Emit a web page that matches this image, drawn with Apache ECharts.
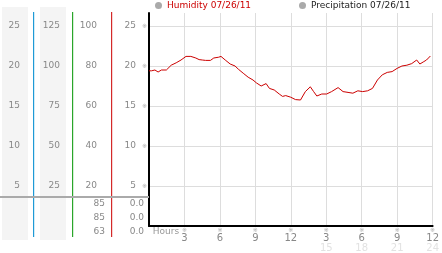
<!DOCTYPE html>
<html><head><meta charset="utf-8">
<script src="https://cdn.jsdelivr.net/npm/echarts@6/dist/echarts.min.js"></script>
<style>html,body{margin:0;padding:0;background:#fff}#c{width:442px;height:253px}</style>
</head><body><div id="c"></div><script>
// ---- data ----
const hours = [0,0.22,0.5,0.77,1.05,1.47,1.88,2.3,2.71,3.13,3.54,3.96,4.24,4.51,4.79,5.2,5.48,5.9,6.09,6.45,6.87,7.28,7.56,7.97,8.39,8.8,9.08,9.49,9.91,10.19,10.6,11.02,11.3,11.57,11.99,12.4,12.82,13.23,13.65,13.93,14.2,14.62,15.03,15.45,16.0,16.42,16.84,17.25,17.67,18.08,18.5,18.91,19.33,19.74,20.16,20.57,20.99,21.4,21.82,22.23,22.65,22.92,23.2,23.48,23.81];
const humidity = [19.4,19.4,19.5,19.25,19.5,19.5,20.1,20.4,20.75,21.2,21.2,21.0,20.8,20.75,20.7,20.7,21.0,21.1,21.2,20.75,20.25,20.0,19.6,19.1,18.6,18.25,17.9,17.5,17.8,17.2,17.0,16.5,16.2,16.3,16.1,15.8,15.75,16.8,17.4,16.8,16.25,16.5,16.5,16.8,17.3,16.8,16.7,16.6,16.9,16.8,16.9,17.2,18.25,18.9,19.2,19.3,19.7,20.0,20.1,20.3,20.75,20.25,20.5,20.75,21.25];
const xTicks = [0,3,6,9,12,15,18,21,24];
const mainTicks = [5,10,15,20,25];
const col1Ticks = [5,10,15,20,25];
const col2Ticks = [25,50,75,100,125];
const col3Ticks = [20,40,60,80,100];
const col3Now = ['85','85','63'];
const col4Now = ['0.0','0.0','0.0'];
const seriesNames = ['Humidity 07/26/11','Precipitation 07/26/11'];

// ---- chart ----
const FF = 'DejaVu Sans';
const GRAY = '#888';
const topFrac = 26.625 / 25; // axis extends above last tick
function yAx(ticks, offset, margin, extra) {
  const step = ticks[1] - ticks[0];
  return Object.assign({
    type: 'value', position: 'left', offset: offset,
    min: 0, max: ticks[ticks.length-1] * topFrac, interval: step,
    axisLine: {show: false}, axisTick: {show: false}, splitLine: {show: false},
    axisLabel: {margin: margin, showMinLabel: false, showMaxLabel: false,
      color: GRAY, fontFamily: FF, fontSize: 9}
  }, extra || {});
}
const chart = echarts.init(document.getElementById('c'), null, {renderer: 'canvas'});
const gfx = [
  {type:'rect', z:-10, shape:{x:2,y:7,width:26,height:233}, style:{fill:'#f4f4f4'}},
  {type:'rect', z:-10, shape:{x:40,y:7,width:26,height:233}, style:{fill:'#f4f4f4'}},
  {type:'rect', z:5, shape:{x:33,y:12,width:1.2,height:225}, style:{fill:'#1f9ad6'}},
  {type:'rect', z:5, shape:{x:72,y:12,width:1.2,height:225}, style:{fill:'#2aa52a'}},
  {type:'rect', z:5, shape:{x:111,y:12,width:1.2,height:225}, style:{fill:'#d42a2a'}},
  {type:'line', z:6, shape:{x1:0,y1:197,x2:149,y2:197}, style:{stroke:'#aaaaaa',lineWidth:2}}
];
const rowsY = [204, 218, 232];
col3Now.forEach((t,i)=>gfx.push({type:'text', z:6, x:105, y:rowsY[i], style:{text:t, align:'right', verticalAlign:'middle', fill:GRAY, fontFamily:FF, fontSize:9}}));
col4Now.forEach((t,i)=>gfx.push({type:'text', z:6, x:144, y:rowsY[i], style:{text:t, align:'right', verticalAlign:'middle', fill:GRAY, fontFamily:FF, fontSize:9}}));

chart.setOption({
  animation: false,
  backgroundColor: '#fff',
  graphic: gfx,
  legend: [
    {data:[{name: seriesNames[0], textStyle:{color:'#cc0000'}}], left:155, top:0, padding:[1,0,0,0],
     icon:'circle', itemWidth:7, itemHeight:7, itemStyle:{color:'#aaa'},
     textStyle:{fontFamily:FF, fontSize:9}},
    {data:[{name: seriesNames[1], textStyle:{color:'#222'}}], left:299, top:0, padding:[1,0,0,0],
     icon:'circle', itemWidth:7, itemHeight:7, itemStyle:{color:'#aaa'},
     textStyle:{fontFamily:FF, fontSize:9}}
  ],
  grid: {left:149, top:13, right:4, bottom:27, containLabel:false},
  xAxis: {
    type:'value', min:xTicks[0], max:xTicks[xTicks.length-1], interval:xTicks[1]-xTicks[0],
    axisLine:{show:true, onZero:false, lineStyle:{color:'#000', width:2}},
    axisTick:{show:false},
    splitLine:{show:true, lineStyle:{color:'#dddddd', width:1}},
    axisLabel:{margin:1, showMinLabel:true, showMaxLabel:true,
      formatter: v => {
        if (v === 0) return '{h|Hours}';
        const d = v > 12 ? v - 12 : v;
        return '{m|※}\n{n|' + d + '}' + (v > 12 ? '\n{f|' + v + '}' : '');
      },
      rich:{
        h:{fontFamily:FF, fontSize:9, color:'#999', lineHeight:10, padding:[0,0,0,34]},
        m:{fontFamily:FF, fontSize:6, color:'#aaa', lineHeight:6},
        n:{fontFamily:FF, fontSize:10, color:GRAY, lineHeight:10},
        f:{fontFamily:FF, fontSize:10, color:'#e2e2e2', lineHeight:10}
      }}
  },
  yAxis: [
    yAx(mainTicks, 0, 2, {
      axisLine:{show:true, lineStyle:{color:'#000', width:2}},
      splitLine:{show:true, showMinLine:false, showMaxLine:false, lineStyle:{color:'#dddddd', width:1}},
      axisLabel:{margin:2, showMinLabel:false, showMaxLabel:false,
        formatter: v => '{v|' + v + '}{m|※}',
        rich:{v:{fontFamily:FF, fontSize:9, color:GRAY}, m:{fontFamily:FF, fontSize:6, color:'#aaa', padding:[0,0,0,6]}}}
    }),
    yAx(col3Ticks, 38, 14),
    yAx(col2Ticks, 77, 12),
    yAx(col1Ticks, 116, 13)
  ],
  series: [
    {name: seriesNames[0], type:'line', xAxisIndex:0, yAxisIndex:0, showSymbol:false,
     data: hours.map((h,i)=>[h, humidity[i]]), lineStyle:{color:'#cc0000', width:1}, itemStyle:{color:'#cc0000'}},
    {name: seriesNames[1], type:'line', xAxisIndex:0, yAxisIndex:0, showSymbol:false, data: [], itemStyle:{color:'#aaa'}}
  ]
});
</script></body></html>
